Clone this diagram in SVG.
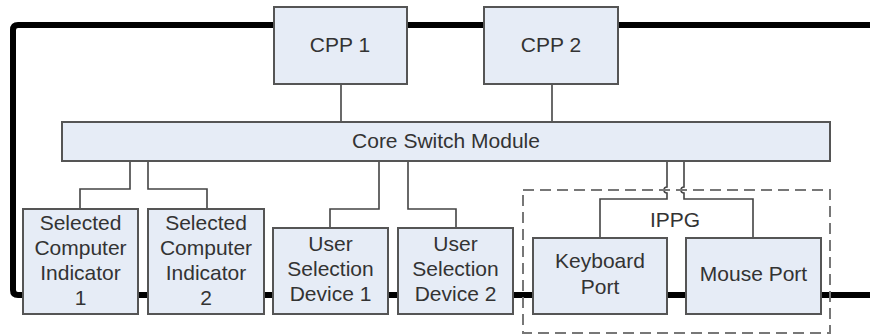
<svg xmlns="http://www.w3.org/2000/svg" width="870" height="336" viewBox="0 0 870 336">
<style>
.bus{fill:none;stroke:#000;stroke-width:6;stroke-linejoin:round}
.box{fill:#e6ecf6;stroke:#555;stroke-width:2}
.ln{fill:none;stroke:#444;stroke-width:1.6}
.dash{fill:none;stroke:#777;stroke-width:2;stroke-dasharray:11 6}
text{font-family:"Liberation Sans",Arial,sans-serif;font-size:21px;fill:#333;text-anchor:middle}
</style>
<rect width="870" height="336" fill="#fff"/>
<g id="buses">
<path class="bus" d="M870 25 H18 Q13 25 13 30 V290 Q13 295 18 295 H870"/>
</g>
<g id="connectors">
<path class="ln" d="M341 84 V122"/>
<path class="ln" d="M552 84 V122"/>
<path class="ln" d="M130 161 V189 H80 V209"/>
<path class="ln" d="M148 161 V189 H207 V209"/>
<path class="ln" d="M379 161 V209 H330 V228"/>
<path class="ln" d="M408 161 V209 H456 V228"/>
<path class="ln" d="M667 161 V187 A3 3 0 0 0 667 193 V199 H600 V238"/>
<path class="ln" d="M684 161 V187 A3 3 0 0 0 684 193 V199 H753 V238"/>
</g>
<g id="cpp1"><rect class="box" x="274" y="7" width="133" height="77"/><text x="340" y="52">CPP 1</text></g>
<g id="cpp2"><rect class="box" x="484" y="7" width="134" height="77"/><text x="551" y="52">CPP 2</text></g>
<g id="core"><rect class="box" x="62" y="122" width="768" height="39"/><text x="446" y="148">Core Switch Module</text></g>
<g id="sci1"><rect class="box" x="23" y="209" width="115" height="105"/>
<text x="80.5" y="230">Selected</text><text x="80.5" y="255">Computer</text><text x="80.5" y="280">Indicator</text><text x="80.5" y="305">1</text></g>
<g id="sci2"><rect class="box" x="148" y="209" width="116" height="105"/>
<text x="206" y="230">Selected</text><text x="206" y="255">Computer</text><text x="206" y="280">Indicator</text><text x="206" y="305">2</text></g>
<g id="usd1"><rect class="box" x="273" y="228" width="115" height="86"/>
<text x="330.5" y="251">User</text><text x="330.5" y="276">Selection</text><text x="330.5" y="301">Device 1</text></g>
<g id="usd2"><rect class="box" x="398" y="228" width="115" height="86"/>
<text x="455.5" y="251">User</text><text x="455.5" y="276">Selection</text><text x="455.5" y="301">Device 2</text></g>
<g id="ippg"><rect class="dash" x="523" y="190" width="307" height="143"/><text x="675" y="227">IPPG</text></g>
<g id="keyboard"><rect class="box" x="533" y="238" width="134" height="76"/>
<text x="600" y="268">Keyboard</text><text x="600" y="294">Port</text></g>
<g id="mouse"><rect class="box" x="686" y="238" width="135" height="76"/>
<text x="753.5" y="281">Mouse Port</text></g>
</svg>
